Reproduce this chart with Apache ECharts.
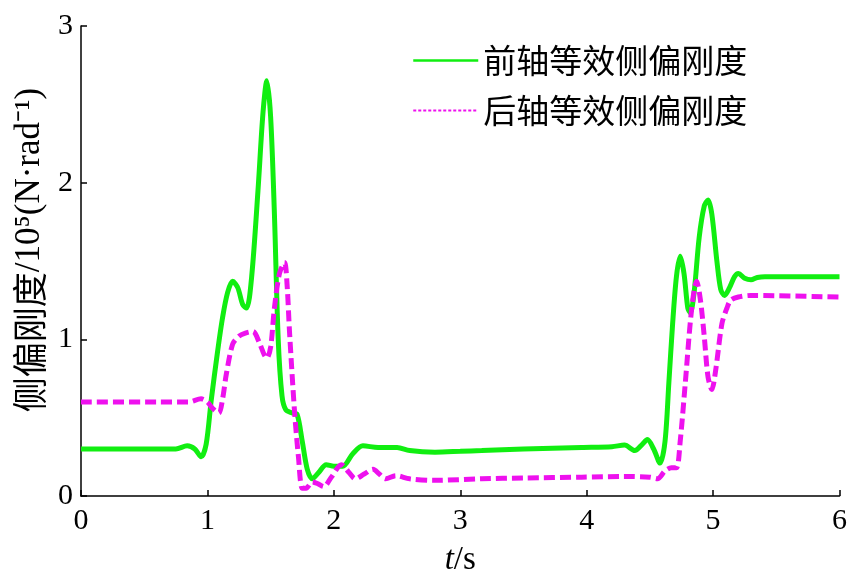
<!DOCTYPE html>
<html>
<head>
<meta charset="utf-8">
<script src="https://cdn.jsdelivr.net/npm/echarts@6/dist/echarts.min.js"></script>
<style>html,body{margin:0;padding:0;background:#fff;}#c{width:850px;height:579px;}</style>
</head>
<body>
<div id="c"></div>
<script>
const seriesNames = ['前轴等效侧偏刚度', '后轴等效侧偏刚度'];
const xTicks = [0, 1, 2, 3, 4, 5, 6];
const yTicks = [0, 1, 2, 3];

const tFront = [0, 0.5, 0.75, 0.84, 0.9, 0.95, 0.99, 1.03, 1.08, 1.12, 1.16, 1.2, 1.24, 1.28, 1.31, 1.35, 1.40, 1.44, 1.47, 1.50, 1.53, 1.56, 1.59, 1.62, 1.67, 1.71, 1.75, 1.79, 1.83, 1.88, 1.94, 2.0, 2.07, 2.15, 2.23, 2.35, 2.5, 2.6, 2.8, 3.0, 3.17, 3.5, 3.96, 4.2, 4.3, 4.38, 4.44, 4.48, 4.53, 4.58, 4.62, 4.65, 4.68, 4.71, 4.74, 4.77, 4.8, 4.82, 4.85, 4.89, 4.93, 4.96, 4.99, 5.03, 5.06, 5.09, 5.13, 5.17, 5.2, 5.25, 5.3, 5.35, 5.41, 6.0];
const vFront = [0.30, 0.30, 0.30, 0.32, 0.30, 0.25, 0.33, 0.61, 0.92, 1.14, 1.30, 1.37, 1.33, 1.22, 1.20, 1.40, 1.95, 2.45, 2.65, 2.42, 1.80, 1.00, 0.64, 0.55, 0.53, 0.52, 0.35, 0.17, 0.11, 0.15, 0.20, 0.19, 0.19, 0.27, 0.32, 0.31, 0.31, 0.29, 0.28, 0.285, 0.29, 0.30, 0.31, 0.315, 0.325, 0.29, 0.33, 0.36, 0.30, 0.21, 0.35, 0.72, 1.10, 1.40, 1.53, 1.42, 1.20, 1.17, 1.30, 1.65, 1.85, 1.89, 1.80, 1.50, 1.32, 1.28, 1.33, 1.40, 1.42, 1.39, 1.38, 1.395, 1.40, 1.40];

const tRear = [0, 0.6, 0.85, 0.95, 1.0, 1.04, 1.09, 1.12, 1.15, 1.2, 1.25, 1.3, 1.36, 1.41, 1.45, 1.47, 1.5, 1.53, 1.57, 1.61, 1.63, 1.65, 1.69, 1.72, 1.75, 1.78, 1.83, 1.87, 1.92, 1.98, 2.06, 2.12, 2.17, 2.24, 2.31, 2.36, 2.41, 2.49, 2.6, 2.8, 3.17, 3.5, 3.96, 4.3, 4.5, 4.56, 4.62, 4.67, 4.71, 4.74, 4.78, 4.83, 4.87, 4.9, 4.93, 4.96, 4.99, 5.02, 5.07, 5.11, 5.14, 5.2, 5.3, 6.0];
const vRear = [0.60, 0.60, 0.60, 0.62, 0.60, 0.56, 0.53, 0.62, 0.78, 0.97, 1.02, 1.04, 1.05, 0.98, 0.90, 0.88, 0.95, 1.20, 1.42, 1.49, 1.35, 1.04, 0.53, 0.25, 0.05, 0.05, 0.09, 0.08, 0.06, 0.12, 0.20, 0.15, 0.11, 0.14, 0.17, 0.14, 0.11, 0.13, 0.11, 0.10, 0.11, 0.115, 0.12, 0.125, 0.12, 0.11, 0.16, 0.18, 0.18, 0.35, 0.72, 1.19, 1.37, 1.25, 1.02, 0.76, 0.68, 0.80, 1.10, 1.20, 1.25, 1.27, 1.28, 1.27];

const pair = (ts, vs) => ts.map((t, i) => [t, vs[i]]);
const serif = '"Liberation Serif", "Times New Roman", "Noto Sans CJK SC", serif';
const cjk = '"Noto Sans CJK SC", "Liberation Serif", sans-serif';
const green = '#11ee11';
const magenta = '#ee11ee';

const chart = echarts.init(document.getElementById('c'), null, {renderer: 'canvas'});
chart.setOption({
  animation: false,
  backgroundColor: '#fff',
  grid: {left: 81, right: 10.5, top: 26, bottom: 83, containLabel: false, outerBoundsMode: 'none'},
  legend: {
    orient: 'vertical',
    left: 407,
    top: 39,
    itemWidth: 65,
    itemHeight: 14,
    itemGap: 17,
    textStyle: {fontFamily: cjk, fontSize: 33, color: '#000', lineHeight: 32},
    data: [
      {name: seriesNames[0], itemStyle: {opacity: 0}, lineStyle: {width: 2.5, type: 'solid', color: green}},
      {name: seriesNames[1], itemStyle: {opacity: 0}, lineStyle: {width: 2, type: [3, 2], color: magenta}}
    ]
  },
  xAxis: {
    type: 'value',
    min: xTicks[0], max: xTicks[xTicks.length - 1], interval: 1,
    axisLine: {show: true, lineStyle: {color: '#000', width: 1.5}},
    axisTick: {show: true, inside: true, length: 6, lineStyle: {color: '#000', width: 1.5}},
    axisLabel: {color: '#000', fontFamily: serif, fontSize: 30, margin: 10},
    splitLine: {show: false},
    name: '{i|t}/s',
    nameLocation: 'middle',
    nameGap: 48,
    nameTextStyle: {
      color: '#000', fontFamily: serif, fontSize: 33,
      rich: {i: {fontStyle: 'italic', fontFamily: serif, fontSize: 33, color: '#000'}}
    }
  },
  yAxis: {
    type: 'value',
    min: yTicks[0], max: yTicks[yTicks.length - 1], interval: 1,
    axisLine: {show: true, lineStyle: {color: '#000', width: 1.5}},
    axisTick: {show: true, inside: true, length: 6, lineStyle: {color: '#000', width: 1.5}},
    axisLabel: {color: '#000', fontFamily: serif, fontSize: 30, margin: 8},
    splitLine: {show: false},
    name: '{c|侧偏刚度}/10⁵(N·rad⁻¹)',
    nameLocation: 'middle',
    nameRotate: 90,
    nameGap: 34,
    nameTextStyle: {
      color: '#000', fontFamily: serif, fontSize: 35, padding: [0, 0, 0, 22],
      rich: {c: {fontFamily: cjk, fontSize: 35, color: '#000'}}
    }
  },
  series: [
    {
      name: seriesNames[0], type: 'line', data: pair(tFront, vFront),
      symbol: 'none', smooth: 0.3,
      lineStyle: {color: green, width: 5},
      itemStyle: {color: green}, z: 2
    },
    {
      name: seriesNames[1], type: 'line', data: pair(tRear, vRear),
      symbol: 'none', smooth: 0.3,
      lineStyle: {color: magenta, width: 5, type: [11, 5]},
      itemStyle: {color: magenta}, z: 3
    }
  ]
});
</script>
</body>
</html>
